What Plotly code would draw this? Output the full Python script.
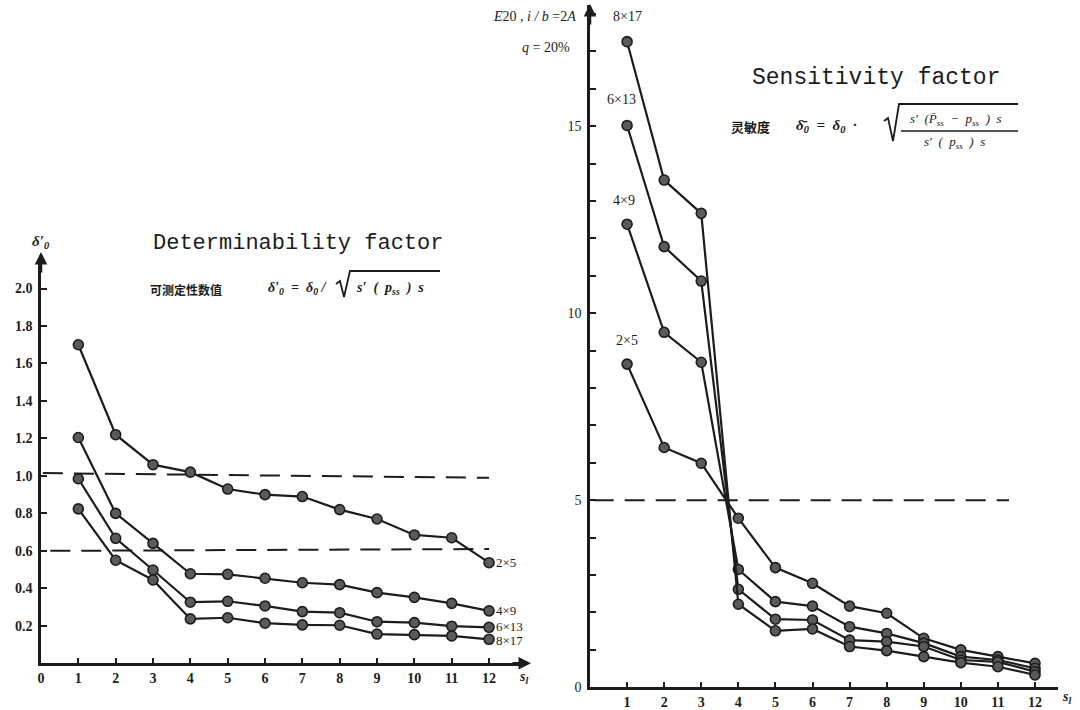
import plotly.graph_objects as go

# ---------------- data ----------------
s_vals = list(range(1, 13))
left_xticks = list(range(0, 13))
left_yticks = [0.2, 0.4, 0.6, 0.8, 1.0, 1.2, 1.4, 1.6, 1.8, 2.0]
right_xticks = list(range(1, 13))
right_yticks = [0, 5, 10, 15]
series_names = ["2×5", "4×9", "6×13", "8×17"]

# Determinability factor  δ'0
det_2x5 = [1.70, 1.22, 1.06, 1.02, 0.93, 0.90, 0.89, 0.82, 0.77, 0.685, 0.67, 0.537]
det_4x9 = [1.205, 0.80, 0.64, 0.478, 0.475, 0.454, 0.43, 0.42, 0.377, 0.352, 0.32, 0.28]
det_6x13 = [0.985, 0.667, 0.498, 0.326, 0.331, 0.306, 0.276, 0.27, 0.222, 0.217, 0.198, 0.192]
det_8x17 = [0.824, 0.55, 0.445, 0.237, 0.243, 0.214, 0.205, 0.203, 0.156, 0.153, 0.146, 0.128]
det_ref_hi_x = [0.05, 12.0]
det_ref_hi_y = [1.015, 0.99]
det_ref_lo_x = [0.25, 12.0]
det_ref_lo_y = [0.60, 0.61]

# Sensitivity factor  δ̄0
sen_2x5 = [8.64, 6.41, 5.99, 4.52, 3.20, 2.78, 2.17, 1.98, 1.31, 1.00, 0.82, 0.64]
sen_4x9 = [12.38, 9.49, 8.69, 3.15, 2.29, 2.17, 1.62, 1.44, 1.18, 0.82, 0.73, 0.51]
sen_6x13 = [15.02, 11.78, 10.86, 2.62, 1.82, 1.80, 1.26, 1.22, 1.09, 0.73, 0.68, 0.42]
sen_8x17 = [17.26, 13.56, 12.67, 2.22, 1.51, 1.56, 1.09, 0.98, 0.82, 0.66, 0.55, 0.33]
sen_ref_x = [0.1, 11.3]
sen_ref_y = [5.0, 5.0]

# ---------------- figure ----------------
W, H = 1080, 710
def px(x):
    return x / W
def py(y):
    return 1 - y / H

INK = "#1c1c1c"
SERIF = "Liberation Serif"
MONO = "Liberation Mono"
CJK = "Noto Sans CJK SC"
SP = "\u2002"

fig = go.Figure()

line_style = dict(color=INK, width=2.2)
marker_style = dict(symbol="circle", size=10, color="#5a5a5a", line=dict(color=INK, width=1.6))

det_series = [det_2x5, det_4x9, det_6x13, det_8x17]
sen_series = [sen_2x5, sen_4x9, sen_6x13, sen_8x17]

for name, ys in zip(series_names, det_series):
    fig.add_trace(go.Scatter(x=s_vals, y=ys, mode="lines+markers", name=name,
                             line=line_style, marker=marker_style,
                             xaxis="x", yaxis="y", showlegend=False))
for xs, ys in [(det_ref_hi_x, det_ref_hi_y), (det_ref_lo_x, det_ref_lo_y)]:
    fig.add_trace(go.Scatter(x=xs, y=ys, mode="lines",
                             line=dict(color=INK, width=2, dash="20px,11px"),
                             xaxis="x", yaxis="y", showlegend=False))

for name, ys in zip(series_names, sen_series):
    fig.add_trace(go.Scatter(x=s_vals, y=ys, mode="lines+markers", name=name,
                             line=line_style, marker=marker_style,
                             xaxis="x2", yaxis="y2", showlegend=False))
fig.add_trace(go.Scatter(x=sen_ref_x, y=sen_ref_y, mode="lines",
                         line=dict(color=INK, width=2, dash="20px,11px"),
                         xaxis="x2", yaxis="y2", showlegend=False))

tickfont_b = dict(family=SERIF, size=14, color=INK, weight="bold")
tickfont = dict(family=SERIF, size=14, color=INK)

axis_common = dict(showgrid=False, zeroline=False, showline=True, linecolor=INK,
                   linewidth=2.5, ticks="inside", tickcolor=INK, tickwidth=2,
                   ticklen=6, automargin=False)

fig.update_layout(
    width=W, height=H,
    margin=dict(l=0, r=0, t=0, b=0, autoexpand=False),
    paper_bgcolor="white", plot_bgcolor="rgba(0,0,0,0)",
    xaxis=dict(domain=[px(41), px(526)], range=[0, 12.99], anchor="y",
               tickmode="array", tickvals=left_xticks,
               ticktext=[str(v) for v in left_xticks],
               tickfont=tickfont_b, **axis_common),
    yaxis=dict(domain=[py(663.3), py(258)], range=[0, 2.163], anchor="x",
               tickmode="array", tickvals=left_yticks,
               ticktext=[f"{v:.1f}" for v in left_yticks],
               tickfont=tickfont_b, ticklabelstandoff=3, **axis_common),
    xaxis2=dict(domain=[px(590), px(1058)], range=[0, 12.62], anchor="y2",
                tickmode="array", tickvals=right_xticks,
                ticktext=[str(v) for v in right_xticks],
                tickfont=tickfont_b, **axis_common),
    yaxis2=dict(domain=[py(687.3), py(5)], range=[0, 18.24], anchor="x2",
                tickmode="array", tickvals=right_yticks,
                ticktext=[str(v) for v in right_yticks],
                minor=dict(dtick=1, tick0=0, ticks="inside", ticklen=6,
                           tickwidth=2, tickcolor=INK, showgrid=False),
                tickfont=tickfont, ticklabelstandoff=3, **axis_common),
)

ann = []
def note(text, x, y, size=14, family=SERIF, xanchor="center", yanchor="middle", color=INK, **kw):
    ann.append(dict(text=text, x=px(x), y=py(y), xref="paper", yref="paper",
                    showarrow=False, xanchor=xanchor, yanchor=yanchor,
                    font=dict(family=family, size=size, color=color), **kw))

# titles
note("Determinability factor", 298, 243, size=22, family=MONO)
note("Sensitivity factor", 876, 78, size=23, family=MONO)

# left formula
note("<b>可测定性数值</b>", 148, 289, size=12, family=CJK, xanchor="left")
note(f"<b><i>δ′<sub>0</sub>{SP}={SP}δ<sub>0</sub> /</i></b>", 266, 288, size=14, xanchor="left")
note(f"<b><i>s′{SP}({SP}p<sub>ss</sub>{SP}){SP}s</i></b>", 354, 288, size=14, xanchor="left")

# right formula
note("<b>灵敏度</b>", 729, 127, size=13, family=CJK, xanchor="left")
note(f"<b><i>δ̄<sub>0</sub>{SP}={SP}δ<sub>0</sub>{SP}·</i></b>", 794, 126, size=15, xanchor="left")
note(f"<i>s′{SP}(P̄<sub>ss</sub>{SP}−{SP}p<sub>ss</sub>{SP}){SP}s</i>", 956, 119, size=13)
note(f"<i>s′{SP}({SP}p<sub>ss</sub>{SP}){SP}s</i>", 954, 143, size=13)

# condition text
note("<i>E</i>20 , <i>i / b</i> =2<i>A</i>", 578, 17, size=14, xanchor="right")
note("<i>q</i> = 20%", 572, 47, size=14, xanchor="right")

# axis symbols
note("<b><i>δ′<sub>0</sub></i></b>", 41, 242, size=15)
note("<b><i>s<sub>l</sub></i></b>", 523, 677, size=14)
note("<b><i>s<sub>l</sub></i></b>", 1066, 697, size=14)

# series labels (anchored to data)
label_dy = [0, 0, 1, -1]
for name, ys, dy in zip(series_names, det_series, label_dy):
    ann.append(dict(text=name, x=s_vals[-1], y=ys[-1], xref="x", yref="y",
                    showarrow=False, xanchor="left", yanchor="middle", xshift=5,
                    yshift=dy, font=dict(family=SERIF, size=13, color=INK)))
label_shift = [14, 14, 16, 16]
label_dx = [0, -3, -6, 0]
for name, ys, sh, dx in zip(series_names, sen_series, label_shift, label_dx):
    ann.append(dict(text=name, x=s_vals[0], y=ys[0], xref="x2", yref="y2",
                    showarrow=False, xanchor="center", yanchor="bottom",
                    yshift=sh, xshift=dx,
                    font=dict(family=SERIF, size=14, color=INK)))

# axis arrow heads
for (x0, y0, axx, ayy) in [(41, 252, 0, 22), (590, 4, 0, 22), (531, 663.3, -20, 0)]:
    ann.append(dict(x=px(x0), y=py(y0), xref="paper", yref="paper", text="",
                    showarrow=True, ax=axx, ay=ayy, arrowhead=2, arrowsize=1.0,
                    arrowwidth=2.5, arrowcolor=INK))

fig.update_layout(annotations=ann)

def path(points):
    return "M " + " L ".join(f"{px(a):.5f},{py(b):.5f}" for a, b in points)

# radical signs and fraction bar
shapes = [
    dict(type="path", xref="paper", yref="paper",
         path=path([(336, 284), (340, 281), (344, 297), (350, 271), (440, 271)]),
         line=dict(color=INK, width=1.8)),
    dict(type="path", xref="paper", yref="paper",
         path=path([(884, 121), (888, 118), (893, 141), (899, 104), (1018, 104)]),
         line=dict(color=INK, width=1.8)),
    dict(type="line", xref="paper", yref="paper", x0=px(901), x1=px(1018), y0=py(131), y1=py(131),
         line=dict(color=INK, width=1.5)),
]
fig.update_layout(shapes=shapes)

fig.write_html("out.html", config={"displayModeBar": False},
               post_script="document.body.style.margin='0';document.body.style.overflow='hidden';")
